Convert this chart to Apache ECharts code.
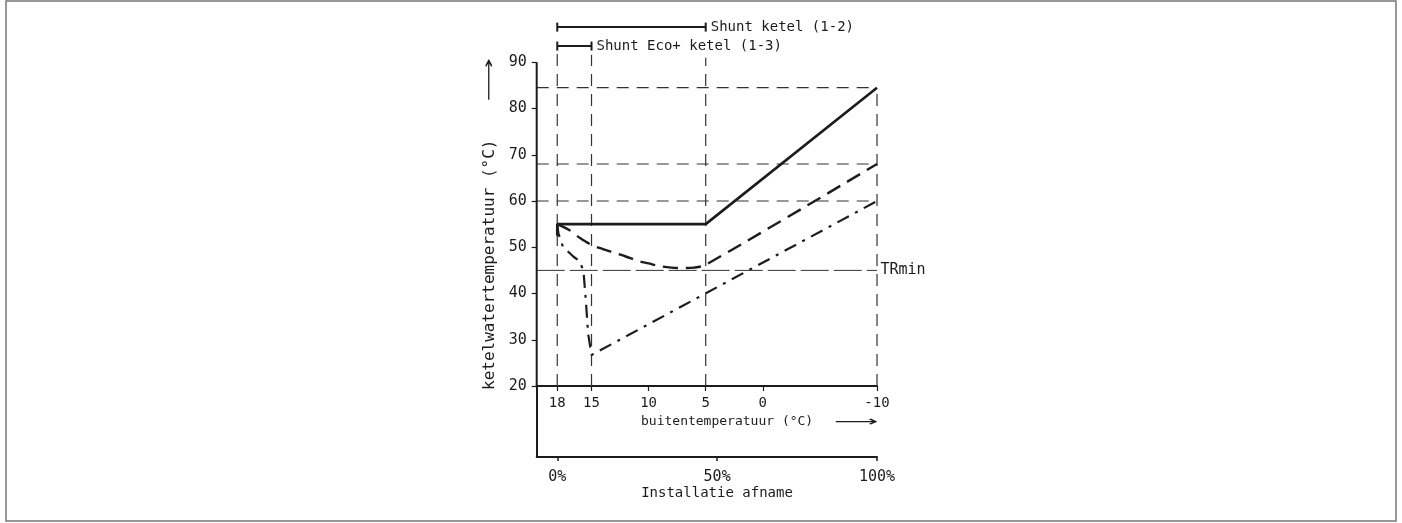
<!DOCTYPE html>
<html>
<head>
<meta charset="utf-8">
<script src="https://cdn.jsdelivr.net/npm/echarts@6/dist/echarts.min.js"></script>
<style>html,body{margin:0;padding:0;background:#fff}#c{width:1402px;height:523px}</style>
</head>
<body>
<div id="c"></div>
<script>
// ---- data ----
const tempTicks = [18, 15, 10, 5, 0, -10];
const yTicks = [20, 30, 40, 50, 60, 70, 80, 90];
const pctTicks = [0, 50, 100];
const pctLabels = ['0%', '50%', '100%'];

// Shunt ketel (1-2): solid
const solidT = [18, 18, 5, -10];
const solidV = [52.5, 55, 55, 84.5];
// dashed curve
const dashedT = [18, 17, 16, 15, 14, 13, 12, 11, 10, 9, 8, 7, 6, 5, -10];
const dashedV = [55, 53.8, 52, 50.5, 49.6, 48.8, 48, 47.1, 46.5, 45.9, 45.6, 45.5, 45.6, 46.2, 68];
// dash-dot curve
const dotdashT = [18, 17.9, 17.5, 16.6, 16, 15.7, 15.5, 15.3, 15, -10];
const dotdashV = [55, 53, 50.1, 48, 46.9, 44.7, 38.6, 31.4, 26.7, 60];

const trMin = 45;
const refLevels = [84.5, 68, 60];
const refVerticalT = [18, 15, 5, -10];
const refVerticalTop = [92, 91.6, 91, 84.5];

const bracket12 = {from: 18, to: 5, level: 97.6, label: 'Shunt ketel (1-2)'};
const bracket13 = {from: 18, to: 15, level: 93.5, label: 'Shunt Eco+ ketel (1-3)'};

const xMinT = -10, xMaxT = 19.8;
const pctAtLeft = (18 - xMaxT) / 28 * 100;

// ---- chart ----
const ink = '#1c1c1c';
const font = 'DejaVu Sans Mono';
const chart = echarts.init(document.getElementById('c'), null, {renderer: 'canvas'});

const zip = (a, b) => a.map((v, i) => [v, b[i]]);
const series = [];

// reference dashed horizontals
refLevels.forEach(v => series.push({
  type: 'line', silent: true, symbol: 'none', clip: false,
  data: [[xMaxT, v], [xMinT, v]],
  lineStyle: {color: '#333', width: 1.2, type: [12, 8]}
}));
// reference dashed verticals
refVerticalT.forEach((t, i) => series.push({
  type: 'line', silent: true, symbol: 'none', clip: false,
  data: [[t, 20], [t, refVerticalTop[i]]],
  lineStyle: {color: '#333', width: 1.2, type: [12, 8]}
}));
// TRmin
series.push({
  type: 'line', silent: true, clip: false,
  symbol: 'circle', symbolSize: 1, showSymbol: true, itemStyle: {color: 'rgba(0,0,0,0)'},
  data: [[xMaxT, trMin], {value: [xMinT, trMin],
    label: {show: true, position: 'right', distance: 3, formatter: 'TRmin', color: ink, fontFamily: font, fontSize: 15}}],
  lineStyle: {color: '#333', width: 1, type: [28, 5]}
});
// left axis line (20..90)
series.push({
  type: 'line', silent: true, symbol: 'none', clip: false,
  data: [[xMaxT, 20], [xMaxT, 90]],
  lineStyle: {color: ink, width: 2}
});
// curves
series.push({
  type: 'line', name: 'solid', symbol: 'none', clip: false,
  data: zip(solidT, solidV),
  lineStyle: {color: ink, width: 2.6, type: 'solid'}
});
series.push({
  type: 'line', name: 'dashed', symbol: 'none', clip: false, smooth: 0.3,
  data: zip(dashedT, dashedV),
  lineStyle: {color: ink, width: 2.4, type: [15, 8]}
});
series.push({
  type: 'line', name: 'dotdash', symbol: 'none', clip: false,
  data: zip(dotdashT, dotdashV),
  lineStyle: {color: ink, width: 2.2, type: [13, 7, 3, 7]}
});
// brackets
[bracket12, bracket13].forEach(b => series.push({
  type: 'line', silent: true, clip: false,
  symbol: 'rect', symbolSize: [2, 9], showSymbol: true,
  itemStyle: {color: ink},
  data: [[b.from, b.level], {value: [b.to, b.level],
    label: {show: true, position: 'right', distance: 4, formatter: b.label, color: ink, fontFamily: font, fontSize: 14}}],
  lineStyle: {color: ink, width: 2}
}));

const option = {
  animation: false,
  backgroundColor: '#fff',
  textStyle: {fontFamily: font, color: ink},
  grid: [
    {left: 536.7, right: 525, top: 16, height: 370},
    {left: 536.7, right: 525, top: 386, height: 71}
  ],
  xAxis: [
    {
      gridIndex: 0, type: 'value', min: xMinT, max: xMaxT, inverse: true,
      axisLine: {show: true, onZero: false, lineStyle: {color: ink, width: 2}},
      axisTick: {show: true, customValues: tempTicks, length: 5, lineStyle: {color: ink, width: 1.2}},
      axisLabel: {customValues: tempTicks, margin: 10, fontSize: 14, color: ink, fontFamily: font},
      splitLine: {show: false}
    },
    {
      gridIndex: 1, type: 'value', min: pctAtLeft, max: 100,
      axisLine: {show: true, onZero: false, lineStyle: {color: ink, width: 2}},
      axisTick: {show: true, customValues: pctTicks, length: 4, lineStyle: {color: ink, width: 1.5}},
      axisLabel: {customValues: pctTicks, margin: 13, fontSize: 15, color: ink, fontFamily: font,
        formatter: v => pctLabels[pctTicks.indexOf(v)]},
      splitLine: {show: false}
    }
  ],
  yAxis: [
    {
      gridIndex: 0, type: 'value', min: 20, max: 100,
      axisLine: {show: false, onZero: false},
      axisTick: {show: true, customValues: yTicks, length: 5, lineStyle: {color: ink, width: 1.2}},
      axisLabel: {customValues: yTicks, margin: 10, fontSize: 15, color: ink, fontFamily: font},
      splitLine: {show: false}
    },
    {
      gridIndex: 1, type: 'value', min: 0, max: 1,
      axisLine: {show: true, onZero: false, lineStyle: {color: ink, width: 2}},
      axisTick: {show: false}, axisLabel: {show: false}, splitLine: {show: false}
    }
  ],
  graphic: [
    {type: 'rect', shape: {x: 6, y: 1, width: 1390, height: 520}, silent: true,
      style: {fill: 'none', stroke: '#777', lineWidth: 1.5}},
    {type: 'text', x: 490, y: 390, rotation: Math.PI / 2, silent: true,
      style: {text: 'ketelwatertemperatuur (°C)', font: '16px "DejaVu Sans Mono"', fill: ink,
        textAlign: 'left', textVerticalAlign: 'middle'}},
    {type: 'text', x: 490, y: 58, rotation: Math.PI / 2, scaleX: 1.9, silent: true,
      style: {text: '⟶', font: '16px "DejaVu Sans"', fill: ink,
        textAlign: 'right', textVerticalAlign: 'middle'}},
    {type: 'text', x: 641, y: 422, silent: true,
      style: {text: 'buitentemperatuur (°C)', font: '13px "DejaVu Sans Mono"', fill: ink,
        textAlign: 'left', textVerticalAlign: 'middle'}},
    {type: 'text', x: 878, y: 422, scaleX: 2.2, silent: true,
      style: {text: '⟶', font: '14px "DejaVu Sans"', fill: ink,
        textAlign: 'right', textVerticalAlign: 'middle'}},
    {type: 'text', x: 717, y: 493, silent: true,
      style: {text: 'Installatie afname', font: '14px "DejaVu Sans Mono"', fill: ink,
        textAlign: 'center', textVerticalAlign: 'middle'}}
  ],
  series: series
};
chart.setOption(option);
</script>
</body>
</html>
